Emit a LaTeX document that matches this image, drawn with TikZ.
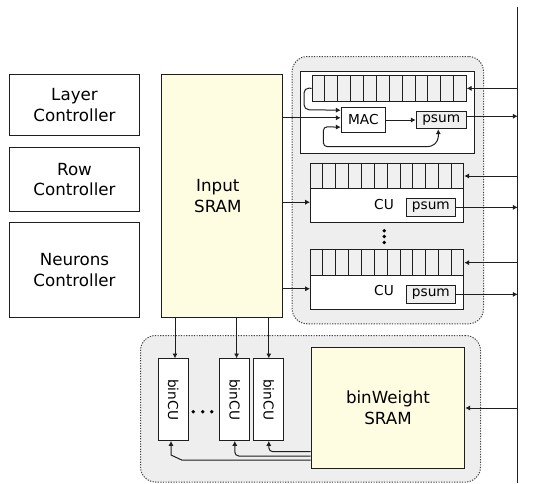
\documentclass[tikz,border=0pt]{standalone}
\usepackage{fontspec}
\setmainfont{DejaVu Sans}
\usepackage{graphicx}
\usetikzlibrary{arrows.meta,calc}
\definecolor{sramyellow}{RGB}{255,253,225}
\definecolor{regiongray}{RGB}{238,238,238}
\definecolor{cellgray}{RGB}{240,240,240}
\definecolor{edgecol}{RGB}{30,30,30}
\newcommand{\bigf}{\fontsize{16.7}{20.5}\selectfont}
\newcommand{\smf}{\fontsize{13.7}{16}\selectfont}
\tikzset{
  blk/.style={draw=edgecol, line width=1pt, anchor=north west, inner sep=0pt, align=center},
  bigtext/.style={font=\bigf},
  smtext/.style={font=\smf},
  region/.style={draw=black!75, line width=1pt, dash pattern=on 1.2pt off 1.4pt, fill=regiongray, rounded corners=15pt, anchor=north west, inner sep=0pt},
  arr/.style={-{Latex[length=4.8pt,width=5.2pt]}, line width=1pt, draw=edgecol},
  arrboth/.style={{Latex[length=4.8pt,width=5.2pt]}-{Latex[length=4.8pt,width=5.2pt]}, line width=1pt, draw=edgecol},
  dotc/.style={fill=black, draw=none, circle, minimum size=3.8pt, inner sep=0pt},
}
\begin{document}
\begin{tikzpicture}[x=1pt,y=-1pt]
\useasboundingbox (0,0) rectangle (533,483);
% background regions
\node[region, minimum width=191.3pt, minimum height=267.3pt] (regA) at (291.7,56) {};
\node[region, minimum width=340pt, minimum height=146.5pt] (regB) at (140,335) {};
% controllers
\node[blk, bigtext, minimum width=130pt, minimum height=60.7pt] (layer) at (9,74.3) {Layer\\Controller};
\node[blk, bigtext, minimum width=130pt, minimum height=64.6pt] (row) at (9,146.7) {Row\\Controller};
\node[blk, bigtext, minimum width=130pt, minimum height=94.4pt] (neur) at (9,222.3) {Neurons\\Controller};
% input SRAM
\node[blk, bigtext, fill=sramyellow, minimum width=121.3pt, minimum height=242.4pt] (sram) at (160.7,74.3) {Input\hspace*{8pt}\\SRAM\hspace*{8pt}};
% MAC unit
\node[blk, fill=white, minimum width=174.3pt, minimum height=82.6pt] (maccont) at (300,70.7) {};
\node[blk, fill=cellgray, minimum width=154pt, minimum height=25.7pt] (topreg) at (311.7,75) {};
\foreach \i in {1,...,11}
  \draw[edgecol, line width=1pt] ($(topreg.north west)!\i/12!(topreg.north east)$) -- ($(topreg.south west)!\i/12!(topreg.south east)$);
\node[blk, smtext, fill=white, minimum width=44.3pt, minimum height=25pt] (mac) at (340.7,106.7) {MAC};
\node[blk, smtext, fill=cellgray, minimum width=50pt, minimum height=17.6pt] (tpsum) at (415.7,110.7) {psum};
% CU 1
\node[blk, fill=cellgray, minimum width=153.3pt, minimum height=25.6pt] (cureg1) at (310,162.7) {};
\foreach \i in {1,...,11}
  \draw[edgecol, line width=1pt] ($(cureg1.north west)!\i/12!(cureg1.north east)$) -- ($(cureg1.south west)!\i/12!(cureg1.south east)$);
\node[blk, fill=white, minimum width=153.3pt, minimum height=33.4pt] (cu1) at (310,188.3) {};
\node[smtext, inner sep=0pt] (cu1lab) at (384,204.3) {CU};
\node[blk, smtext, fill=cellgray, minimum width=49.3pt, minimum height=18.3pt] (cupsum1) at (405.7,197.7) {psum};
% CU 2
\node[blk, fill=cellgray, minimum width=153.3pt, minimum height=25.7pt] (cureg2) at (310,249.3) {};
\foreach \i in {1,...,11}
  \draw[edgecol, line width=1pt] ($(cureg2.north west)!\i/12!(cureg2.north east)$) -- ($(cureg2.south west)!\i/12!(cureg2.south east)$);
\node[blk, fill=white, minimum width=153.3pt, minimum height=34.3pt] (cu2) at (310,275) {};
\node[smtext, inner sep=0pt] (cu2lab) at (384,290.5) {CU};
\node[blk, smtext, fill=cellgray, minimum width=49.3pt, minimum height=17.7pt] (cupsum2) at (405.7,285) {psum};
% vertical dots
\node[dotc] (vd1) at (384.3,230.7) {};
\node[dotc] (vd2) at (384.3,236.5) {};
\node[dotc] (vd3) at (384.3,242.5) {};
% binCUs
\node[blk, smtext, fill=white, minimum width=30pt, minimum height=81.7pt] (b1) at (157.7,358.3) {\rotatebox{-90}{binCU}};
\node[blk, smtext, fill=white, minimum width=30pt, minimum height=81.7pt] (b2) at (219.3,358.3) {\rotatebox{-90}{binCU}};
\node[blk, smtext, fill=white, minimum width=30pt, minimum height=81.7pt] (b3) at (253.3,358.3) {\rotatebox{-90}{binCU}};
\node[dotc] (hd1) at (193.3,411.7) {};
\node[dotc] (hd2) at (202.7,411.7) {};
\node[dotc] (hd3) at (211.7,411.7) {};
% binWeight SRAM
\node[blk, bigtext, fill=sramyellow, minimum width=153.6pt, minimum height=121.6pt] (bw) at (310.7,346.7) {binWeight\\SRAM};
% bus
\coordinate (bt) at (517.7,7);
\coordinate (bb) at (517.7,483);
\draw[edgecol, line width=1pt] (bt) -- (bb);
% helper coordinates
\coordinate (macin) at ([yshift=1.9pt]mac.west);
\coordinate (cu1in) at ([yshift=3.3pt]cu1.west);
\coordinate (cu2in) at ([yshift=3.9pt]cu2.west);
\coordinate (macreg) at ([yshift=9.5pt]mac.west);
\coordinate (macfb) at ([yshift=-7.5pt]mac.west);
\coordinate (tpout) at ([yshift=3.8pt]tpsum.east);
\coordinate (b1in) at ([xshift=1.8pt]b1.north);
\coordinate (b2in) at ([xshift=1.8pt]b2.north);
% SRAM -> MAC / CUs
\draw[arr] (sram.east |- macin) -- (macin);
\draw[arr] (sram.east |- cu1in) -- (cu1in);
\draw[arr] (sram.east |- cu2in) -- (cu2in);
% register -> MAC
\coordinate (rm1) at (304,87.85);
\coordinate (rm2) at (304,109.7);
\draw[arr, rounded corners=5pt] (topreg.west) -- (rm1) -- (rm2) -- (macreg);
% MAC -> psum
\draw[arr] (mac.east |- tpsum.west) -- (tpsum.west);
% feedback loop
\coordinate (fb1) at (323.3,126.7);
\coordinate (fb2) at (323.3,146.7);
\coordinate (fb3) at (431.7,146.7);
\coordinate (fb4) at (438.3,140.7);
\draw[arrboth, rounded corners=4pt] (macfb) -- (fb1) -- (fb2) -- (fb3) -- (fb4) -- (fb4 |- tpsum.south);
% bus connections
\draw[arr] (bt |- topreg.east) -- (topreg.east);
\draw[arr] (tpout) -- (bt |- tpout);
\draw[arr] (bt |- cureg1.east) -- (cureg1.east);
\draw[arr] (cupsum1.east) -- (bt |- cupsum1.east);
\draw[arr] (bt |- cureg2.east) -- (cureg2.east);
\draw[arr] (cupsum2.east) -- (bt |- cupsum2.east);
\draw[arr] (bt |- bw.east) -- (bw.east);
% SRAM -> binCUs
\draw[arr] (sram.south -| b1in) -- (b1in);
\draw[arr] (sram.south -| b2in) -- (b2in);
\draw[arr] (sram.south -| b3.north) -- (b3.north);
% binWeight -> binCUs
\coordinate (s3) at (310.7,451.7);
\coordinate (s2) at (310.7,456);
\coordinate (s1) at (310.7,460);
\coordinate (k1) at (181.7,460);
\coordinate (k2) at (171,455);
\draw[arr, rounded corners=4pt] (s3) -| (b3.south);
\draw[arr, rounded corners=4pt] (s2) -| (b2.south);
\draw[arr] (s1) -- (k1) -- (k2) -- (k2 |- b1.south);
\end{tikzpicture}
\end{document}
